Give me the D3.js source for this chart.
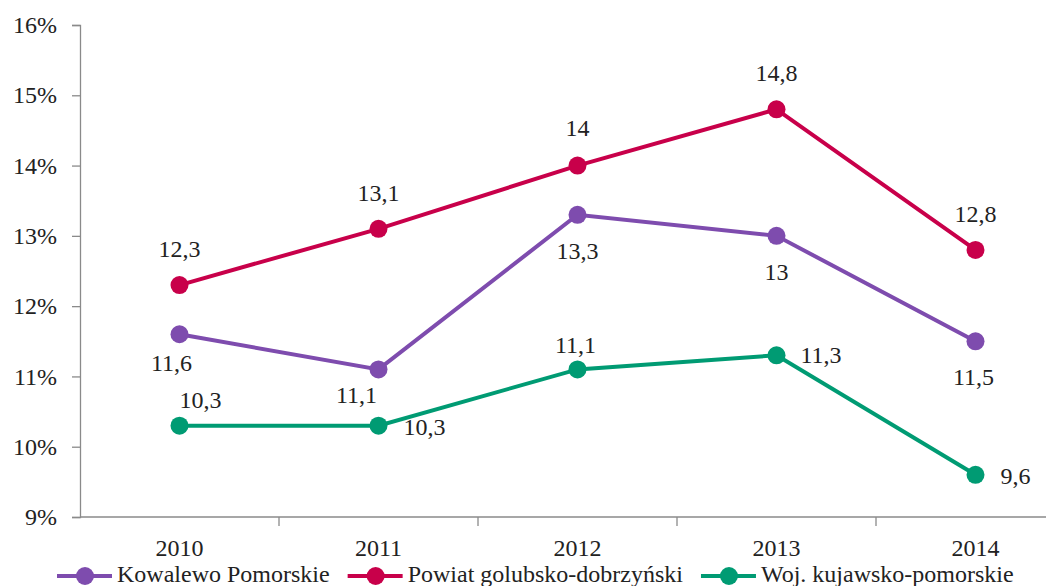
<!DOCTYPE html>
<html>
<head>
<meta charset="utf-8">
<script src="https://cdn.jsdelivr.net/npm/d3@7"></script>
<style>
  body { margin: 0; background: #fff; }
  text { font-family: "Liberation Serif", "DejaVu Serif", serif; fill: #222; }
</style>
</head>
<body>
<script>
const width = 1046;
const height = 586;

// data
const years = ["2010", "2011", "2012", "2013", "2014"];
const kowalewo = [11.6, 11.1, 13.3, 13.0, 11.5];
const powiat = [12.3, 13.1, 14.0, 14.8, 12.8];
const woj = [10.3, 10.3, 11.1, 11.3, 9.6];
const yTicks = [9, 10, 11, 12, 13, 14, 15, 16];

// label placement: [dx, dy, anchor] relative to each point
const kowalewoLabels = [[-8, 37, "middle"], [-22, 34, "middle"], [0, 44, "middle"], [0, 44, "middle"], [-2, 44, "middle"]];
const powiatLabels = [[0, -28, "middle"], [0, -28, "middle"], [0, -30, "middle"], [0, -28, "middle"], [0, -28, "middle"]];
const wojLabels = [[21, -18, "middle"], [25, 9, "start"], [-2, -16, "middle"], [24, 8, "start"], [25, 9, "start"]];

const series = [
    { name: "Kowalewo Pomorskie", values: kowalewo, labels: kowalewoLabels, color: "#7e4cae" },
    { name: "Powiat golubsko-dobrzyński", values: powiat, labels: powiatLabels, color: "#c8004a" },
    { name: "Woj. kujawsko-pomorskie", values: woj, labels: wojLabels, color: "#009b73" }
];

const margin = { left: 80, top: 25, bottom: 69 };
const plotW = 995;

const svg = d3.select("body")
    .append("svg")
    .attr("width", width)
    .attr("height", height);

const x = d3.scaleBand()
    .domain(years)
    .range([margin.left, margin.left + plotW]);

const y = d3.scaleLinear()
    .domain([9, 16])
    .range([height - margin.bottom, margin.top]);

const fmt = v => String(v).replace(".", ",");

// y axis
const yAxis = svg.append("g")
    .attr("transform", `translate(${margin.left},0)`)
    .call(d3.axisLeft(y).tickValues(yTicks).tickSize(8).tickPadding(15).tickFormat(d => d + "%"));
yAxis.selectAll("text").style("font-size", "24px").attr("fill", "#222");

// x axis
const xAxis = svg.append("g")
    .attr("transform", `translate(0,${y(9)})`)
    .call(d3.axisBottom(x).tickSize(0));
xAxis.selectAll("text")
    .style("font-size", "24px")
    .attr("fill", "#222")
    .attr("dy", null)
    .attr("y", 39);

// tick marks at the band boundaries
xAxis.selectAll(".sep")
    .data(years.slice(1))
    .enter()
    .append("line")
    .attr("class", "sep")
    .attr("x1", d => x(d))
    .attr("x2", d => x(d))
    .attr("y1", 0)
    .attr("y2", 9);

svg.selectAll(".domain, .tick line, .sep")
    .attr("stroke", "#8a8a8a")
    .attr("stroke-width", 1.3);
xAxis.select(".domain").attr("d", `M${margin.left},0H${margin.left + plotW}`);

const cx = d => x(d) + x.bandwidth() / 2;

const line = d3.line()
    .x((d, i) => cx(years[i]))
    .y(d => y(d));

series.forEach(s => {
    const g = svg.append("g");
    g.append("path")
        .datum(s.values)
        .attr("d", line)
        .attr("fill", "none")
        .attr("stroke", s.color)
        .attr("stroke-width", 4);

    g.selectAll("circle")
        .data(s.values)
        .enter()
        .append("circle")
        .attr("cx", (d, i) => cx(years[i]))
        .attr("cy", d => y(d))
        .attr("r", 9)
        .attr("fill", s.color);

    g.selectAll("text")
        .data(s.values)
        .enter()
        .append("text")
        .attr("x", (d, i) => cx(years[i]) + s.labels[i][0])
        .attr("y", (d, i) => y(d) + s.labels[i][1])
        .attr("text-anchor", (d, i) => s.labels[i][2])
        .style("font-size", "24px")
        .text(d => fmt(d));
});

// legend
const legend = svg.append("g").attr("transform", `translate(57,${height - 4})`);
let lx = 0;
series.forEach(s => {
    const item = legend.append("g").attr("transform", `translate(${lx},0)`);
    item.append("line")
        .attr("x1", 0).attr("x2", 55)
        .attr("y1", -6).attr("y2", -6)
        .attr("stroke", s.color)
        .attr("stroke-width", 4);
    item.append("circle")
        .attr("cx", 28).attr("cy", -6).attr("r", 9)
        .attr("fill", s.color);
    const t = item.append("text")
        .attr("x", 60)
        .style("font-size", "24px")
        .text(s.name);
    lx += 60 + t.node().getComputedTextLength() + 18;
});
</script>
</body>
</html>
